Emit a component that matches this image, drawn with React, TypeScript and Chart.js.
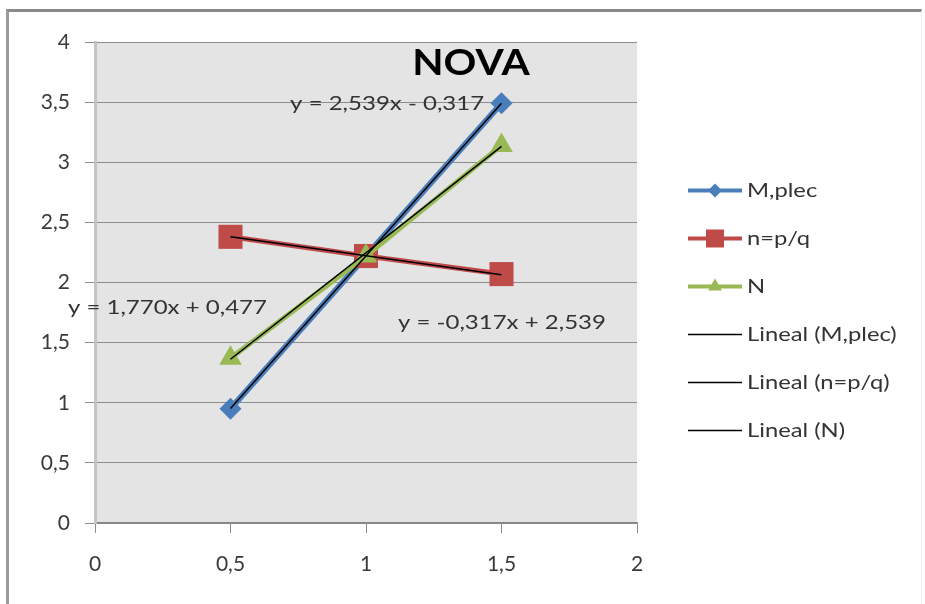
import React, { useEffect, useRef } from "react";
import { Chart, registerables } from "chart.js";

Chart.register(...registerables);

// ---- data ----
const xValues = [0.5, 1, 1.5];
const seriesNames = ["M,plec", "n=p/q", "N"];
const mPlecValues = [0.95, 2.22, 3.49];
const nPQValues = [2.38, 2.22, 2.07];
const nValues = [1.37, 2.22, 3.14];
const trendNames = ["Lineal (M,plec)", "Lineal (n=p/q)", "Lineal (N)"];
const trendSlopes = [2.539, -0.317, 1.77];
const trendIntercepts = [-0.317, 2.539, 0.477];
const xTickLabels = ["0", "0,5", "1", "1,5", "2"];
const yTickLabels = ["0", "0,5", "1", "1,5", "2", "2,5", "3", "3,5", "4"];
const eqAnchorX = [0.72, 1.118, -0.1];
const eqAnchorY = [3.49, 1.67, 1.79];
const titleText = "NOVA";

// ---- styles ----
const seriesColors = ["#4a7ebb", "#be4b48", "#98b954"];
const seriesMarkers = ["rectRot", "rect", "triangle"];
const seriesRadius = [11, 17, 13];
const FONT = "Lato";

const fmt = (n: number) => n.toFixed(3).replace(".", ",");
const eqText = (s: number, b: number) =>
  `y = ${fmt(s)}x ${b < 0 ? "-" : "+"} ${fmt(Math.abs(b))}`;

function stretchedText(
  ctx: CanvasRenderingContext2D,
  text: string,
  x: number,
  y: number,
  font: string,
  color: string,
  align: CanvasTextAlign,
  stretch: number
) {
  ctx.save();
  ctx.translate(x, y);
  ctx.scale(stretch, 1);
  ctx.font = font;
  ctx.fillStyle = color;
  ctx.textAlign = align;
  ctx.textBaseline = "middle";
  ctx.fillText(text, 0, 0);
  ctx.restore();
}

function drawMarker(ctx: CanvasRenderingContext2D, kind: string, x: number, y: number, r: number, color: string) {
  ctx.save();
  ctx.fillStyle = color;
  ctx.beginPath();
  if (kind === "rectRot") {
    ctx.moveTo(x, y - r);
    ctx.lineTo(x + r, y);
    ctx.lineTo(x, y + r);
    ctx.lineTo(x - r, y);
  } else if (kind === "rect") {
    ctx.rect(x - r, y - r, 2 * r, 2 * r);
  } else {
    ctx.moveTo(x, y - r);
    ctx.lineTo(x + r * 0.866, y + r / 2);
    ctx.lineTo(x - r * 0.866, y + r / 2);
  }
  ctx.closePath();
  ctx.fill();
  ctx.restore();
}

const decorPlugin = {
  id: "decor",
  beforeDraw(chart: any) {
    const { ctx, chartArea } = chart;
    const { left, top, right, bottom } = chartArea;
    ctx.save();
    ctx.fillStyle = "#e4e4e4";
    ctx.fillRect(left, top, right - left, bottom - top);
    ctx.restore();
  },
  afterDraw(chart: any) {
    const { ctx, chartArea } = chart;
    const xs = chart.scales.x;
    const ys = chart.scales.y;

    // title
    stretchedText(ctx, titleText, 471, 63, `bold 37px ${FONT}`, "#000000", "center", 1.1);

    // trendline equations
    for (let i = 0; i < 3; i++) {
      stretchedText(
        ctx,
        eqText(trendSlopes[i], trendIntercepts[i]),
        xs.getPixelForValue(eqAnchorX[i]),
        ys.getPixelForValue(eqAnchorY[i]),
        `20px ${FONT}`,
        "#333333",
        "left",
        1.2
      );
    }

    // legend
    const lx0 = chartArea.right + 51;
    const lx1 = lx0 + 54;
    const tx = lx1 + 5;
    const y0 = 190.5;
    const step = 48;
    const legendMarker = [7, 9, 8];
    for (let i = 0; i < 3; i++) {
      const y = y0 + i * step;
      ctx.save();
      ctx.strokeStyle = seriesColors[i];
      ctx.lineWidth = 4;
      ctx.beginPath();
      ctx.moveTo(lx0, y);
      ctx.lineTo(lx1, y);
      ctx.stroke();
      ctx.restore();
      drawMarker(ctx, seriesMarkers[i], (lx0 + lx1) / 2, y, legendMarker[i], seriesColors[i]);
      stretchedText(ctx, seriesNames[i], tx, y, `19px ${FONT}`, "#333333", "left", 1.25);
    }
    for (let i = 0; i < 3; i++) {
      const y = y0 + (i + 3) * step;
      ctx.save();
      ctx.strokeStyle = "#000000";
      ctx.lineWidth = 1.5;
      ctx.beginPath();
      ctx.moveTo(lx0, y);
      ctx.lineTo(lx1, y);
      ctx.stroke();
      ctx.restore();
      stretchedText(ctx, trendNames[i], tx, y, `19px ${FONT}`, "#333333", "left", 1.25);
    }
  },
};

export default function App() {
  const canvasRef = useRef<HTMLCanvasElement | null>(null);

  useEffect(() => {
    if (!canvasRef.current) return;
    const seriesValues = [mPlecValues, nPQValues, nValues];
    const seriesSets = seriesValues.map((vals, i) => ({
      label: seriesNames[i],
      data: xValues.map((x, j) => ({ x, y: vals[j] })),
      showLine: true,
      borderColor: seriesColors[i],
      backgroundColor: seriesColors[i],
      borderWidth: i === 0 ? 6 : 5,
      pointStyle: seriesMarkers[i],
      pointRadius: seriesRadius[i],
      pointBackgroundColor: seriesColors[i],
      pointBorderColor: seriesColors[i],
      pointBorderWidth: 0,
      order: 3 - i,
    }));
    const xMin = Math.min(...xValues);
    const xMax = Math.max(...xValues);
    const trendSets = trendSlopes.map((s, i) => ({
      label: trendNames[i],
      data: [
        { x: xMin, y: s * xMin + trendIntercepts[i] },
        { x: xMax, y: s * xMax + trendIntercepts[i] },
      ],
      showLine: true,
      borderColor: "#000000",
      backgroundColor: "#000000",
      borderWidth: 1.5,
      pointRadius: 0,
      order: 0,
    }));

    const tickFont = { family: FONT, size: 21 };
    const chart = new Chart(canvasRef.current, {
      type: "scatter",
      data: { datasets: [...seriesSets, ...trendSets] as any },
      options: {
        responsive: false,
        animation: false,
        layout: { padding: { left: 0, top: 42, right: 288, bottom: 0 } },
        plugins: {
          legend: { display: false },
          title: { display: false },
          tooltip: { enabled: false },
        },
        scales: {
          x: {
            type: "linear",
            min: 0,
            max: 2,
            ticks: {
              stepSize: 0.5,
              color: "#3a3a3a",
              font: tickFont,
              padding: 19,
              callback: (v: any) => xTickLabels[Math.round(Number(v) / 0.5)],
            },
            grid: {
              drawOnChartArea: false,
              drawTicks: true,
              tickLength: 10,
              color: "#8c8c8c",
            },
            border: { display: true, color: "#868686", width: 1.5 },
            afterFit: (scale: any) => {
              scale.height = 81;
            },
          },
          y: {
            type: "linear",
            min: 0,
            max: 4,
            ticks: {
              stepSize: 0.5,
              color: "#3a3a3a",
              font: tickFont,
              padding: 15,
              callback: (v: any) => yTickLabels[Math.round(Number(v) / 0.5)],
            },
            grid: {
              drawOnChartArea: true,
              drawTicks: true,
              tickLength: 10,
              color: "#8c8c8c",
              lineWidth: 1,
            },
            border: { display: true, color: "#c4c4c4", width: 3 },
            afterFit: (scale: any) => {
              scale.width = 95;
            },
          },
        },
      } as any,
      plugins: [decorPlugin],
    });
    return () => chart.destroy();
  }, []);

  return (
    <div
      style={{
        position: "fixed",
        left: 0,
        top: 0,
        width: 925,
        height: 604,
        background: "#ffffff",
        overflow: "hidden",
      }}
    >
      <div
        style={{
          position: "absolute",
          left: 6,
          top: 9,
          width: 912,
          height: 620,
          borderTop: "3px solid #8a8a8a",
          borderLeft: "3px solid #9c9c9c",
          borderRight: "1px solid #f0f0f0",
        }}
      />
      <canvas
        ref={canvasRef}
        width={925}
        height={604}
        style={{ position: "absolute", left: 0, top: 0, width: 925, height: 604 }}
      />
    </div>
  );
}
